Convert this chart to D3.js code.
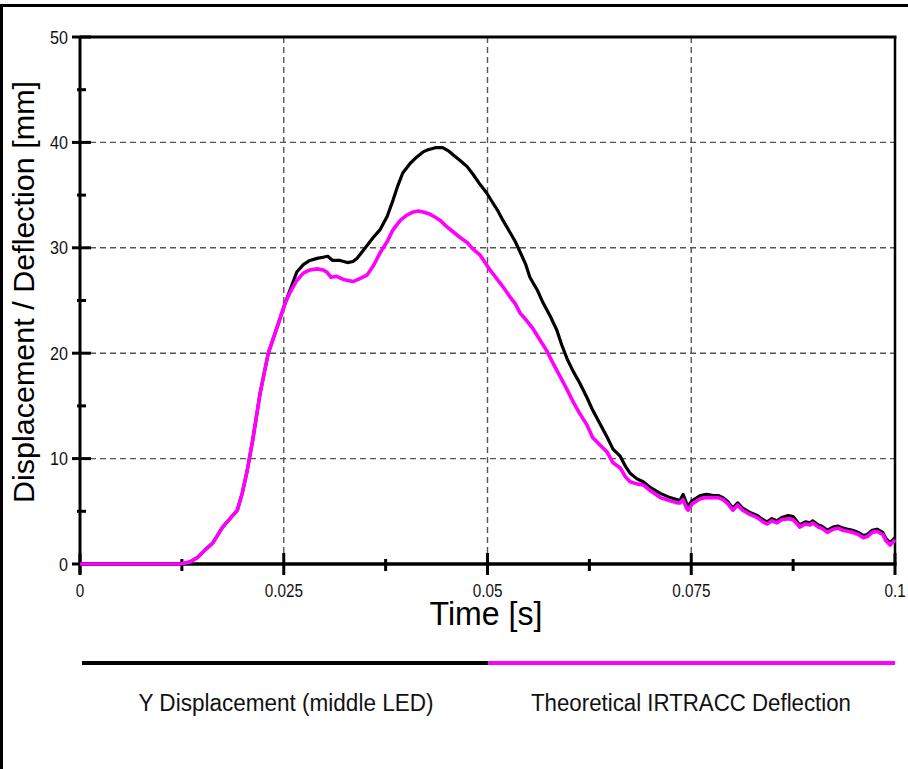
<!DOCTYPE html>
<html lang="en">
<head>
    <meta charset="UTF-8">
    <title>Displacement / Deflection vs Time</title>
    <script src="https://d3js.org/d3.v7.min.js"></script>
    <style>
        body {
            margin: 0;
            padding: 0;
            background: #fff;
        }
        svg {
            font-family: "Liberation Sans", Arial, sans-serif;
            display: block;
        }
    </style>
</head>
<body>
    <svg width="908" height="769"></svg>

    <script>
        // time axis values (s) shared by the rising part of both curves
        const riseTime = [0, 0.0123, 0.0135, 0.0144, 0.0153, 0.0163, 0.0175, 0.0184, 0.0193, 0.0199,
            0.0205, 0.0212, 0.0221, 0.0231, 0.0242, 0.0252];
        const riseValue = [0, 0, 0.2, 0.6, 1.3, 2.0, 3.5, 4.3, 5.1, 6.7,
            8.8, 11.8, 16.2, 20.0, 22.5, 24.8];

        const yDispTime = [0.0266, 0.0274, 0.0282, 0.0291, 0.0298, 0.0304, 0.0310, 0.0319, 0.0328, 0.0335,
            0.0340, 0.0346, 0.0352, 0.0360, 0.0368, 0.0377, 0.0384, 0.0390, 0.0396, 0.0405,
            0.0413, 0.0421, 0.0427, 0.0436, 0.0445, 0.0452, 0.0458, 0.0466, 0.0475, 0.0482,
            0.0491, 0.0499, 0.0507, 0.0512, 0.0519, 0.0528, 0.0534, 0.0540, 0.0547, 0.0552,
            0.0561, 0.0568, 0.0577, 0.0585, 0.0591, 0.0598, 0.0605, 0.0613, 0.0622, 0.0629,
            0.0638, 0.0647, 0.0654, 0.0663, 0.0669, 0.0675, 0.0683, 0.0691, 0.0699, 0.0712,
            0.0724, 0.0733, 0.0736, 0.0740, 0.0744, 0.0746, 0.0751, 0.0761, 0.0769, 0.0777,
            0.0783, 0.0789, 0.0795, 0.0801, 0.0807, 0.0813, 0.0822, 0.0831, 0.0838, 0.0843,
            0.0849, 0.0855, 0.0861, 0.0869, 0.0875, 0.0880, 0.0883, 0.0890, 0.0896, 0.0899,
            0.0906, 0.0910, 0.0917, 0.0924, 0.0930, 0.0936, 0.0942, 0.0948, 0.0955, 0.0961,
            0.0966, 0.0972, 0.0978, 0.0985, 0.0989, 0.0994, 0.1];
        const yDispValue = [27.7, 28.4, 28.8, 29.0, 29.1, 29.2, 28.8, 28.8, 28.6, 28.7,
            29.0, 29.6, 30.2, 31.0, 31.7, 33.0, 34.5, 35.9, 37.1, 38.0,
            38.6, 39.1, 39.3, 39.5, 39.5, 39.2, 38.8, 38.3, 37.7, 37.0,
            36.0, 35.2, 34.2, 33.6, 32.6, 31.4, 30.6, 29.6, 28.4, 27.2,
            26.0, 24.8, 23.5, 22.2, 20.8, 19.4, 18.3, 17.2, 15.8, 14.6,
            13.3, 12.0, 10.9, 10.2, 9.3, 8.6, 8.1, 7.8, 7.3, 6.7,
            6.3, 6.1, 6.0, 6.6, 5.8, 5.5, 6.0, 6.5, 6.6, 6.5,
            6.5, 6.3, 5.9, 5.3, 5.8, 5.3, 4.9, 4.6, 4.2, 4.0,
            4.3, 4.1, 4.4, 4.6, 4.5, 4.0, 3.7, 4.0, 3.9, 4.1,
            3.7, 3.6, 3.2, 3.5, 3.6, 3.4, 3.3, 3.2, 3.0, 2.7,
            2.8, 3.2, 3.3, 3.0, 2.4, 2.0, 2.5];

        const irtraccTime = [0.0258, 0.0266, 0.0274, 0.0282, 0.0291, 0.0298, 0.0303, 0.0308, 0.0315, 0.0323,
            0.0329, 0.0335, 0.0344, 0.0352, 0.0360, 0.0368, 0.0377, 0.0384, 0.0393, 0.0401,
            0.0409, 0.0415, 0.0421, 0.0429, 0.0436, 0.0442, 0.0450, 0.0458, 0.0466, 0.0475,
            0.0482, 0.0491, 0.0497, 0.0503, 0.0512, 0.0519, 0.0528, 0.0534, 0.0540, 0.0548,
            0.0556, 0.0564, 0.0573, 0.0580, 0.0589, 0.0598, 0.0605, 0.0613, 0.0622, 0.0629,
            0.0638, 0.0647, 0.0654, 0.0663, 0.0669, 0.0675, 0.0683, 0.0691, 0.0699, 0.0712,
            0.0724, 0.0733, 0.0736, 0.0740, 0.0744, 0.0746, 0.0751, 0.0761, 0.0769, 0.0777,
            0.0783, 0.0789, 0.0795, 0.0801, 0.0807, 0.0813, 0.0822, 0.0831, 0.0838, 0.0843,
            0.0849, 0.0855, 0.0861, 0.0869, 0.0875, 0.0880, 0.0883, 0.0890, 0.0896, 0.0899,
            0.0906, 0.0910, 0.0917, 0.0924, 0.0930, 0.0936, 0.0942, 0.0948, 0.0955, 0.0961,
            0.0966, 0.0972, 0.0978, 0.0985, 0.0989, 0.0994, 0.1];
        const irtraccValue = [25.8, 26.9, 27.6, 27.9, 28.0, 27.9, 27.7, 27.2, 27.3, 27.0,
            26.9, 26.8, 27.1, 27.4, 28.3, 29.5, 30.6, 31.7, 32.6, 33.1,
            33.4, 33.5, 33.4, 33.2, 32.9, 32.6, 32.0, 31.5, 31.0, 30.5,
            29.9, 29.3, 28.6, 27.9, 27.0, 26.3, 25.3, 24.7, 23.8, 23.1,
            22.3, 21.3, 20.2, 19.1, 17.8, 16.5, 15.4, 14.3, 13.2, 12.0,
            11.3, 10.6, 9.6, 9.1, 8.3, 7.8, 7.6, 7.5, 7.0, 6.3,
            6.0, 5.8, 5.8, 6.1, 5.3, 5.1, 5.7, 6.2, 6.3, 6.3,
            6.3, 6.1, 5.7, 5.1, 5.6, 5.1, 4.7, 4.4, 4.0, 3.8,
            4.1, 3.9, 4.2, 4.3, 4.2, 3.8, 3.5, 3.8, 3.7, 3.9,
            3.5, 3.4, 3.0, 3.3, 3.4, 3.2, 3.1, 3.0, 2.8, 2.5,
            2.6, 3.0, 3.1, 2.8, 2.2, 1.8, 2.3];

        const xTicks = [0, 0.025, 0.05, 0.075, 0.1];
        const xTickLabels = ["0", "0.025", "0.05", "0.075", "0.1"];
        const xMinorTicks = [0.0125, 0.0375, 0.0625, 0.0875];
        const yTicks = [0, 10, 20, 30, 40, 50];
        const yMinorTicks = [5, 15, 25, 35, 45];

        const seriesNames = ["Y Displacement (middle LED)", "Theoretical IRTRACC Deflection"];
        const seriesColors = ["#000000", "#ff00ff"];

        const margin = { top: 37, right: 13, bottom: 205, left: 80 };
        const width = 908;
        const height = 769;

        const svg = d3.select("svg");

        const x = d3.scaleLinear().domain([0, 0.1]).range([margin.left, width - margin.right]);
        const y = d3.scaleLinear().domain([0, 50]).range([height - margin.bottom, margin.top]);

        // outer frame (top and left only)
        svg.append("line").attr("x1", 0).attr("x2", width).attr("y1", 5.5).attr("y2", 5.5)
            .attr("stroke", "#000").attr("stroke-width", 3);
        svg.append("line").attr("x1", 1.5).attr("x2", 1.5).attr("y1", 4).attr("y2", height)
            .attr("stroke", "#000").attr("stroke-width", 3);

        // grid
        const grid = svg.append("g").attr("stroke", "#555").attr("stroke-width", 1.4)
            .attr("stroke-dasharray", "6,4");
        grid.selectAll(".gx").data(xTicks.slice(1, -1)).enter().append("line")
            .attr("x1", d => x(d)).attr("x2", d => x(d))
            .attr("y1", y(50)).attr("y2", y(0));
        grid.selectAll(".gy").data(yTicks.slice(1, -1)).enter().append("line")
            .attr("x1", x(0)).attr("x2", x(0.1))
            .attr("y1", d => y(d)).attr("y2", d => y(d));

        // top / right border of the plot
        svg.append("line").attr("x1", x(0)).attr("x2", x(0.1) + 1.5)
            .attr("y1", y(50)).attr("y2", y(50)).attr("stroke", "#000").attr("stroke-width", 3);
        svg.append("line").attr("x1", x(0.1)).attr("x2", x(0.1))
            .attr("y1", y(50)).attr("y2", y(0)).attr("stroke", "#000").attr("stroke-width", 2.5);

        // y axis
        const yAxis = svg.append("g");
        yAxis.append("line").attr("x1", x(0)).attr("x2", x(0))
            .attr("y1", y(50)).attr("y2", y(0) + 10).attr("stroke", "#000").attr("stroke-width", 3);
        yAxis.selectAll(".ymaj").data(yTicks).enter().append("line")
            .attr("x1", x(0) - 8).attr("x2", x(0) + 11)
            .attr("y1", d => y(d)).attr("y2", d => y(d))
            .attr("stroke", "#000").attr("stroke-width", 3);
        yAxis.selectAll(".ymin").data(yMinorTicks).enter().append("line")
            .attr("x1", x(0) - 3).attr("x2", x(0) + 6)
            .attr("y1", d => y(d)).attr("y2", d => y(d))
            .attr("stroke", "#000").attr("stroke-width", 3);
        // labels are slightly condensed, as in the source picture
        yAxis.selectAll(".ylab").data(yTicks).enter().append("text")
            .attr("transform", d => `translate(${x(0) - 12},${y(d) + 6.5}) scale(0.85,1)`)
            .attr("text-anchor", "end").attr("font-size", 19).attr("fill", "#111")
            .text(d => d);

        // x axis
        const xAxis = svg.append("g");
        xAxis.append("line").attr("x1", x(0)).attr("x2", x(0.1) + 1.5)
            .attr("y1", y(0)).attr("y2", y(0)).attr("stroke", "#000").attr("stroke-width", 3.5);
        xAxis.selectAll(".xmaj").data(xTicks).enter().append("line")
            .attr("x1", d => x(d)).attr("x2", d => x(d))
            .attr("y1", y(0) - 11).attr("y2", y(0) + 11)
            .attr("stroke", "#000").attr("stroke-width", 3);
        xAxis.selectAll(".xmin").data(xMinorTicks).enter().append("line")
            .attr("x1", d => x(d)).attr("x2", d => x(d))
            .attr("y1", y(0) - 5).attr("y2", y(0) + 7)
            .attr("stroke", "#000").attr("stroke-width", 3);
        xAxis.selectAll(".xlab").data(xTicks).enter().append("text")
            .attr("transform", d => `translate(${x(d)},${y(0) + 33}) scale(0.85,1)`)
            .attr("text-anchor", "middle").attr("font-size", 18).attr("fill", "#111")
            .text((d, i) => xTickLabels[i]);

        // axis titles
        svg.append("text")
            .attr("x", 486).attr("y", 625)
            .attr("text-anchor", "middle").attr("font-size", 34)
            .attr("textLength", 113).attr("lengthAdjust", "spacingAndGlyphs")
            .text("Time [s]");
        svg.append("text")
            .attr("transform", "translate(34,292) rotate(-90)")
            .attr("text-anchor", "middle").attr("font-size", 29)
            .attr("textLength", 422).attr("lengthAdjust", "spacingAndGlyphs")
            .text("Displacement / Deflection [mm]");

        // curves
        const line = d3.line().x(d => x(d[0])).y(d => y(d[1]));
        const rise = riseTime.map((t, i) => [t, riseValue[i]]);
        const dispData = rise.concat(yDispTime.map((t, i) => [t, yDispValue[i]]));
        const irtraccData = rise.concat(irtraccTime.map((t, i) => [t, irtraccValue[i]]));

        svg.append("path").datum(dispData)
            .attr("d", line).attr("fill", "none")
            .attr("stroke", seriesColors[0]).attr("stroke-width", 3.2)
            .attr("stroke-linejoin", "round");
        svg.append("path").datum(irtraccData)
            .attr("d", line).attr("fill", "none")
            .attr("stroke", seriesColors[1]).attr("stroke-width", 3.6)
            .attr("stroke-linejoin", "round");

        // legend
        const legendY = 663;
        const legendX = d3.scaleLinear().domain([0, 2]).range([82, 895]);
        const legend = svg.append("g");
        seriesNames.forEach((name, i) => {
            legend.append("line")
                .attr("x1", legendX(i)).attr("x2", legendX(i + 1))
                .attr("y1", legendY).attr("y2", legendY)
                .attr("stroke", seriesColors[i]).attr("stroke-width", 4);
        });
        const legendText = [
            { x: 286, len: 295 },
            { x: 691, len: 320 }
        ];
        legend.selectAll(".ltext").data(seriesNames).enter().append("text")
            .attr("x", (d, i) => legendText[i].x).attr("y", 711)
            .attr("text-anchor", "middle").attr("font-size", 23)
            .attr("textLength", (d, i) => legendText[i].len)
            .attr("lengthAdjust", "spacingAndGlyphs")
            .attr("fill", "#111")
            .text(d => d);
    </script>
</body>
</html>
